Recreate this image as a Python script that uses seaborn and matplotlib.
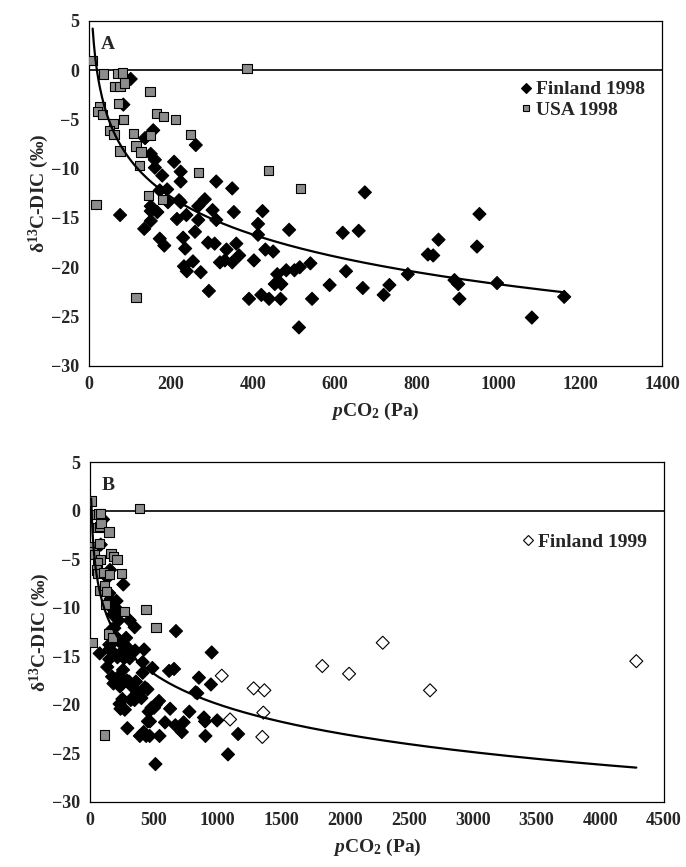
import numpy as np
import pandas as pd
import matplotlib
matplotlib.use('Agg')
import matplotlib.pyplot as plt
import seaborn as sns

# Finland 1998 (filled diamonds)
fin98_x = [102, 84, 157, 137, 261, 151, 161, 208, 161, 224, 179, 224, 311, 350, 674,
           173, 191, 193, 220, 224, 283, 267, 151, 167, 151, 76, 215, 238, 302, 354,
           424, 267, 151, 311, 135, 413, 489, 259, 230, 413, 620, 659, 173, 184, 291,
           307, 360, 336, 431, 450, 235, 367, 320, 332, 350, 254, 232, 239, 273, 403,
           541, 482, 502, 515, 460, 454, 470, 628, 588, 669, 293, 391, 421, 440, 468,
           545, 513, 720, 734, 779, 828, 841, 854, 905, 893, 902, 948, 954, 997, 1082,
           1161]
fin98_y = [-0.9, -3.5, -6.1, -6.9, -7.6, -8.5, -9.1, -9.3, -9.9, -10.3, -10.7, -11.3,
           -11.3, -12.0, -12.4, -12.2, -12.1, -13.4, -13.2, -13.4, -13.1, -13.8, -13.8,
           -14.4, -14.3, -14.7, -15.1, -14.7, -14.2, -14.4, -14.3, -15.2, -15.3, -15.2,
           -16.1, -15.6, -16.2, -16.4, -17.0, -16.7, -16.5, -16.3, -17.1, -17.8, -17.5,
           -17.6, -17.6, -18.2, -18.2, -18.4, -18.1, -18.8, -19.5, -19.3, -19.5, -19.4,
           -19.9, -20.4, -20.5, -19.3, -19.6, -20.3, -20.3, -20.0, -20.7, -21.7, -21.7,
           -20.4, -21.8, -22.1, -22.4, -23.2, -22.8, -23.2, -23.2, -23.2, -26.1, -22.8,
           -21.8, -20.7, -18.7, -18.8, -17.2, -23.2, -21.3, -21.7, -17.9, -14.6, -21.6,
           -25.1, -23.0]

# USA 1998 (grey squares)
usa98_x = [9, 35, 71, 82, 386, 63, 76, 86, 149, 27, 20, 33, 73, 165, 183, 212, 84, 59,
           50, 61, 108, 151, 249, 76, 115, 127, 124, 268, 439, 517, 145, 179, 17, 115]
usa98_y = [1.0, -0.4, -0.35, -0.3, 0.2, -1.7, -1.65, -1.3, -2.2, -3.7, -4.2, -4.5, -3.4,
           -4.4, -4.7, -5.0, -5.0, -5.4, -6.1, -6.5, -6.4, -6.6, -6.5, -8.2, -7.7, -8.3,
           -9.7, -10.4, -10.2, -12.0, -12.7, -13.1, -13.6, -23.1]

# Finland 1999 (open diamonds, panel B only)
fin99_x = [1033, 1283, 1367, 1359, 1098, 1351, 1821, 2031, 2295, 2666, 4283]
fin99_y = [-17.0, -18.3, -18.5, -20.8, -21.5, -23.3, -16.0, -16.8, -13.6, -18.5, -15.5]

series_names = ['Finland 1998', 'USA 1998', 'Finland 1999']

sns.set_style('white')
plt.rcParams['font.family'] = ['Liberation Serif', 'DejaVu Serif']
plt.rcParams['font.weight'] = 'bold'
plt.rcParams['mathtext.fontset'] = 'custom'
plt.rcParams['mathtext.rm'] = 'Liberation Serif:bold'
plt.rcParams['mathtext.bf'] = 'Liberation Serif:bold'
plt.rcParams['mathtext.it'] = 'Liberation Serif:italic:bold'

df = pd.concat([
    pd.DataFrame({'pco2': fin98_x, 'd13c': fin98_y, 'series': series_names[0]}),
    pd.DataFrame({'pco2': usa98_x, 'd13c': usa98_y, 'series': series_names[1]}),
    pd.DataFrame({'pco2': fin99_x, 'd13c': fin99_y, 'series': series_names[2]}),
], ignore_index=True)

colors = {'Finland 1998': 'black', 'USA 1998': '#8c8c8c', 'Finland 1999': 'white'}
markers = {'Finland 1998': 'D', 'USA 1998': 's', 'Finland 1999': 'D'}

fig = plt.figure(figsize=(6.86, 8.67), dpi=100)
axA = fig.add_axes([0.1297, 0.578, 0.8353, 0.398])
axB = fig.add_axes([0.1312, 0.075, 0.8367, 0.392])


def panel(ax, sub, xmax, xstep, letter, fit_series, leg_y):
    sns.scatterplot(data=sub, x='pco2', y='d13c', hue='series', style='series',
                    palette=colors, markers=markers, s=44, edgecolor='black',
                    linewidth=0.8, ax=ax, legend='auto', zorder=3)
    # logarithmic trendline (least squares of y on ln x)
    fit = sub[sub['series'].isin(fit_series)]
    a, b = np.polyfit(np.log(fit['pco2']), fit['d13c'], 1)
    xx = np.linspace(fit['pco2'].min(), fit['pco2'].max(), 400)
    ax.plot(xx, a * np.log(xx) + b, color='black', lw=1.6, zorder=4)
    ax.axhline(0, color='black', lw=1.2, zorder=2)

    ax.set_xlim(0, xmax)
    ax.set_ylim(-30, 5)
    ax.set_xticks(np.arange(0, xmax + 1, xstep))
    ax.set_yticks(np.arange(-30, 6, 5))
    ax.tick_params(direction='out', length=3, width=0.8, labelsize=13, pad=4)
    for s in ax.spines.values():
        s.set_color('black')
        s.set_linewidth(0.9)
    ax.set_ylabel('δ$^{13}$C-DIC (‰)', fontsize=14, fontweight='bold', labelpad=0)
    ax.set_xlabel('$\\it{p}$CO$_{2}$ (Pa)', fontsize=14, fontweight='bold', labelpad=6)
    ax.text(0.02, 0.955, letter, transform=ax.transAxes, fontsize=14,
            fontweight='bold', va='top')

    handles, labels = ax.get_legend_handles_labels()
    keep = [(h, l) for h, l in zip(handles, labels) if l in sub['series'].unique()]
    if letter == 'B':
        keep = [(h, l) for h, l in keep if l == 'Finland 1999']
    for h, _ in keep:
        h.set_markersize(5)
    ax.legend([h for h, _ in keep], [l for _, l in keep], loc='upper right',
              bbox_to_anchor=(0.99, leg_y), frameon=False, fontsize=14,
              handletextpad=0.1, handlelength=0.8, labelspacing=0.15,
              borderaxespad=0.2)


subA = df[df['series'] != 'Finland 1999']
panel(axA, subA, 1400, 200, 'A', ['Finland 1998', 'USA 1998'], 0.86)
panel(axB, df, 4500, 500, 'B', series_names, 0.825)

fig.savefig('out.png', dpi=100)
